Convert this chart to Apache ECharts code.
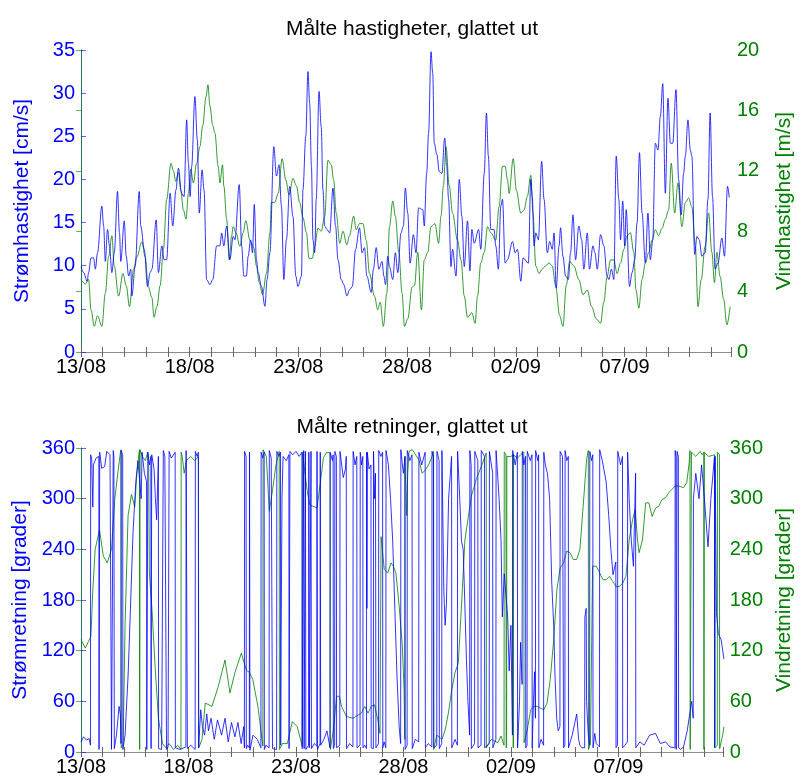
<!DOCTYPE html>
<html><head><meta charset="utf-8">
<script src="https://cdn.jsdelivr.net/npm/echarts@6/dist/echarts.min.js"></script>
<style>html,body{margin:0;padding:0;background:#fff}#c{width:803px;height:778px}</style>
</head><body><div id="c"></div>
<script>
// x values are days after 13/08 00:00
const dateLabels = ['13/08','18/08','23/08','28/08','02/09','07/09'];
const speedTicks = [0,5,10,15,20,25,30,35];
const windTicks = [0,4,8,12,16,20];
const dirTicks = [0,60,120,180,240,300,360];

const currentSpeed = [[0.00,9.9],[0.12,9.2],[0.28,8.2],[0.35,9.2],[0.46,10.9],[0.58,10.9],[0.66,9.6],[0.76,11.5],[0.96,16.9],[1.04,14.6],[1.12,10.5],[1.22,14.2],[1.31,12.3],[1.42,9.2],[1.53,11.5],[1.68,18.6],[1.77,13.8],[1.83,10.5],[1.99,15.2],[2.08,11.1],[2.19,8.8],[2.29,9.6],[2.34,6.5],[2.49,9.9],[2.68,18.6],[2.75,14.6],[2.91,11.9],[3.06,7.6],[3.18,9.2],[3.26,9.6],[3.46,15.3],[3.56,9.2],[3.72,12.3],[3.82,10.7],[3.94,10.7],[4.10,18.4],[4.22,14.6],[4.37,18.8],[4.48,21.3],[4.63,18.4],[4.74,18.0],[4.86,26.9],[4.94,21.9],[5.02,18.0],[5.09,21.5],[5.24,29.6],[5.35,24.6],[5.44,16.1],[5.57,21.1],[5.66,18.8],[5.78,8.4],[5.93,7.8],[6.06,8.4],[6.24,12.3],[6.39,12.3],[6.47,13.8],[6.57,12.3],[6.70,14.6],[6.85,10.7],[7.00,13.4],[7.08,13.0],[7.28,19.4],[7.39,12.3],[7.49,8.8],[7.61,8.8],[7.69,11.1],[7.80,13.0],[7.89,11.5],[7.97,17.1],[8.07,10.7],[8.15,9.2],[8.30,7.6],[8.46,5.3],[8.56,8.4],[8.69,11.5],[8.87,23.8],[8.99,20.4],[9.11,21.7],[9.22,16.9],[9.33,8.4],[9.45,13.0],[9.60,19.2],
[9.75,15.7],[9.88,8.8],[9.98,7.6],[10.14,8.8],[10.21,18.8],[10.34,25.0],[10.44,32.5],[10.52,28.8],[10.60,21.5],[10.67,13.0],[10.75,11.5],[10.82,17.7],[10.95,30.2],[11.05,26.1],[11.13,18.8],[11.21,14.6],[11.31,14.2],[11.44,13.8],[11.59,19.0],[11.71,14.6],[11.82,10.7],[11.97,8.4],[12.09,7.8],[12.23,6.5],[12.35,7.2],[12.48,7.6],[12.63,11.9],[12.81,14.4],[12.93,11.5],[13.04,12.1],[13.15,8.8],[13.35,6.9],[13.45,9.6],[13.58,12.1],[13.70,9.6],[13.85,10.5],[13.93,8.8],[14.01,7.8],[14.11,11.1],[14.19,9.9],[14.34,8.4],[14.46,11.5],[14.57,9.2],[14.72,13.8],[14.83,14.6],[14.92,19.0],[15.03,16.1],[15.14,10.3],[15.29,13.6],[15.41,11.5],[15.53,16.7],[15.72,16.5],[15.79,14.6],[15.90,20.7],[15.99,25.4],[16.10,34.8],[16.18,32.3],[16.25,24.2],[16.37,22.9],[16.48,20.9],[16.60,20.7],[16.73,24.8],[16.82,21.7],[16.91,17.7],[17.02,9.9],[17.09,11.9],[17.25,8.8],[17.40,20.0],[17.52,15.7],[17.63,9.9],[17.78,15.2],[17.89,9.4],[17.98,14.2],[18.09,12.6],[18.29,14.2],[18.39,11.9],[18.55,20.7],[18.65,27.7],[18.74,22.7],[18.85,14.2],[19.00,14.2],[19.08,12.3],[19.20,9.6],[19.31,16.9],[19.39,17.7],[19.51,10.3],[19.62,10.7],
[19.85,12.8],[19.97,11.5],[20.08,11.9],[20.23,8.2],[20.34,10.9],[20.58,10.3],[20.69,20.0],[20.76,18.0],[20.84,12.3],[20.92,13.8],[21.04,13.0],[21.19,22.1],[21.30,17.7],[21.45,11.5],[21.56,12.8],[21.68,11.9],[21.76,13.8],[21.86,7.4],[21.99,12.3],[22.06,14.4],[22.17,11.1],[22.29,8.8],[22.42,8.4],[22.52,11.5],[22.63,15.9],[22.75,10.7],[22.90,14.6],[23.03,13.0],[23.13,9.6],[23.29,13.8],[23.39,9.6],[23.55,12.3],[23.64,11.5],[23.75,9.6],[23.90,13.6],[24.05,12.3],[24.20,8.8],[24.28,8.4],[24.40,9.6],[24.51,8.4],[24.62,22.7],[24.74,17.7],[24.82,13.0],[24.92,17.5],[25.01,12.3],[25.08,16.5],[25.23,7.6],[25.35,9.2],[25.47,10.7],[25.58,15.0],[25.69,23.1],[25.81,16.1],[25.96,10.3],[26.08,16.1],[26.19,10.7],[26.30,13.0],[26.42,24.2],[26.54,23.4],[26.65,27.3],[26.76,31.1],[26.88,18.4],[27.00,29.4],[27.11,24.2],[27.22,24.2],[27.37,30.4],[27.49,20.0],[27.61,15.9],[27.72,20.7],[27.80,22.7],[27.92,26.9],[28.03,23.4],[28.10,22.7],[28.23,11.3],[28.33,13.4],[28.44,13.0],[28.56,11.1],[28.71,11.5],[28.84,17.7],[28.94,27.7],[29.05,18.0],[29.17,9.6],[29.30,10.3],[29.48,13.2],[29.60,11.1],[29.74,19.2],[29.82,17.9]];

const windSpeed = [[0.00,4.8],[0.20,4.5],[0.35,4.8],[0.46,2.8],[0.61,1.7],[0.76,2.4],[0.96,1.7],[1.12,3.9],[1.27,6.3],[1.42,7.7],[1.53,5.7],[1.73,3.7],[1.93,5.2],[2.08,4.4],[2.23,3.0],[2.42,5.5],[2.57,6.3],[2.80,7.3],[2.95,6.3],[3.10,4.3],[3.26,3.6],[3.36,2.3],[3.49,3.0],[3.64,4.4],[3.79,6.8],[3.94,10.1],[4.14,12.5],[4.25,12.0],[4.36,11.3],[4.48,11.9],[4.59,10.7],[4.71,9.4],[4.83,8.8],[4.94,10.5],[5.05,12.1],[5.17,11.2],[5.32,12.5],[5.47,13.6],[5.60,15.0],[5.75,16.9],[5.84,17.7],[5.93,16.3],[6.06,15.0],[6.16,14.5],[6.31,12.3],[6.39,11.2],[6.51,12.4],[6.57,11.0],[6.70,8.8],[6.82,6.1],[6.93,7.7],[7.00,8.3],[7.13,7.9],[7.31,7.0],[7.46,7.9],[7.58,8.7],[7.77,7.4],[7.95,6.9],[8.07,5.7],[8.20,4.6],[8.35,3.8],[8.53,5.2],[8.69,7.9],[8.76,9.9],[8.91,9.9],[9.07,10.5],[9.25,12.8],[9.42,11.4],[9.57,10.4],
[9.75,11.5],[9.91,11.0],[10.06,9.9],[10.21,8.9],[10.37,7.9],[10.49,6.2],[10.64,6.2],[10.75,7.0],[10.90,8.2],[11.05,8.0],[11.21,9.0],[11.36,12.7],[11.51,12.4],[11.62,11.4],[11.74,9.2],[11.90,7.2],[12.05,8.0],[12.23,7.1],[12.35,7.7],[12.54,9.0],[12.66,8.1],[12.81,8.5],[12.97,8.5],[13.12,7.4],[13.27,5.2],[13.50,3.7],[13.65,2.8],[13.76,3.3],[13.91,1.7],[14.07,3.9],[14.19,8.3],[14.34,10.0],[14.46,9.0],[14.62,6.6],[14.77,3.9],[14.88,1.7],[15.03,2.2],[15.23,4.3],[15.34,4.4],[15.49,6.6],[15.66,2.8],[15.79,6.1],[15.95,6.6],[16.10,8.3],[16.28,8.5],[16.45,7.2],[16.56,9.0],[16.67,11.0],[16.79,13.6],[16.94,11.0],[17.09,9.2],[17.32,7.4],[17.48,6.1],[17.63,3.7],[17.78,2.3],[17.98,2.6],[18.13,1.9],[18.24,3.7],[18.39,5.9],[18.55,6.6],[18.70,8.3],[18.85,7.9],[19.08,7.4],[19.23,9.6],[19.39,12.3],[19.51,12.3],[19.62,11.4],
[19.69,10.5],[19.88,12.8],[20.03,10.7],[20.23,9.2],[20.38,9.4],[20.53,10.3],[20.69,11.7],[20.79,9.2],[20.92,5.7],[21.07,5.2],[21.22,5.5],[21.37,5.7],[21.53,5.9],[21.68,5.7],[21.83,4.4],[22.02,2.4],[22.17,1.7],[22.32,4.4],[22.48,6.0],[22.67,5.7],[22.90,4.8],[23.09,3.8],[23.29,4.1],[23.49,3.0],[23.70,2.2],[23.90,1.9],[24.05,3.3],[24.20,5.0],[24.36,6.1],[24.51,6.1],[24.66,5.2],[24.82,5.9],[24.97,6.8],[25.12,7.7],[25.27,7.9],[25.43,6.6],[25.53,4.1],[25.66,2.9],[25.81,4.8],[25.96,5.9],[26.12,6.6],[26.27,7.4],[26.42,8.1],[26.57,7.7],[26.73,8.2],[26.88,8.8],[27.03,9.4],[27.15,12.5],[27.31,9.2],[27.46,11.2],[27.64,8.3],[27.80,9.9],[27.95,10.2],[28.10,9.6],[28.26,7.0],[28.38,3.0],[28.53,4.8],[28.71,7.0],[28.87,9.2],[29.02,6.6],[29.14,4.6],[29.25,6.6],[29.40,5.0],[29.56,3.5],[29.71,1.8],[29.86,3.0]];

const currentDir = [[0.00,12],[0.12,18],[0.25,14],[0.38,16],[0.44,8],[0.45,352],[0.50,346],[0.55,290],[0.58,340],[0.70,348],[0.83,350],[0.84,3],[0.86,2],[0.87,355],[0.96,336],[1.10,338],[1.20,356],[1.35,352],[1.41,350],[1.42,3],[1.49,5],[1.50,357],[1.53,350],[1.55,4],[1.65,20],[1.77,54],[1.83,45],[1.86,10],[1.87,357],[1.94,352],[1.95,3],[2.05,20],[2.19,90],[2.30,170],[2.42,260],[2.55,320],[2.65,345],[2.80,300],[2.84,355],[2.95,330],[3.05,320],[3.06,3],[3.10,2],[3.11,355],[3.18,340],[3.25,350],[3.26,4],[3.28,5],[3.29,352],[3.40,335],[3.46,300],[3.52,275],[3.58,330],[3.60,350],[3.61,4],[3.75,3],[3.82,5],[3.83,357],[3.90,350],[3.97,352],[3.98,3],[4.05,6],[4.09,4],[4.10,356],[4.20,348],[4.38,355],[4.39,5],[4.60,3],[4.88,6],[4.89,357],[4.94,355],[4.95,4],[5.10,8],[5.31,3],[5.32,356],[5.40,350],[5.46,355],[5.47,5],[5.57,50],[5.65,30],[5.75,20],[5.85,45],[5.93,25],[6.05,40],[6.20,15],[6.35,38],[6.54,20],[6.70,40],[6.85,12],[7.00,35],[7.16,18],[7.30,35],[7.45,10],[7.57,30],[7.60,5],[7.61,356],[7.68,350],[7.69,4],[7.75,8],[7.83,5],[7.84,355],[7.86,2],[8.00,20],[8.20,15],[8.37,5],[8.38,355],[8.45,348],[8.52,355],[8.53,3],[8.60,8],[8.75,5],[8.76,357],[8.85,348],[8.90,350],[8.91,4],[9.00,6],[9.10,3],[9.11,356],[9.20,350],[9.28,355],[9.29,8],[9.31,137],[9.35,300],[9.40,350],[9.55,345],[9.67,352],[9.68,4],[9.70,3],[9.72,356],[9.85,352],[10.00,356],[10.15,350],[10.28,355],[10.29,4],
[10.35,6],[10.36,357],[10.38,4],[10.43,5],[10.44,356],[10.46,3],[10.59,8],[10.60,355],[10.62,5],[10.69,6],[10.70,356],[10.72,4],[10.85,10],[10.97,7],[10.98,356],[11.00,3],[11.12,10],[11.13,355],[11.15,8],[11.30,15],[11.44,25],[11.55,10],[11.58,5],[11.59,355],[11.70,345],[11.73,352],[11.74,4],[11.80,8],[11.81,356],[11.88,350],[11.89,5],[12.04,8],[12.05,356],[12.15,335],[12.20,325],[12.30,335],[12.34,350],[12.35,4],[12.50,10],[12.65,6],[12.66,356],[12.75,340],[12.83,350],[12.84,5],[12.98,8],[12.99,355],[13.05,340],[13.11,350],[13.12,5],[13.20,8],[13.28,4],[13.29,355],[13.30,170],[13.32,355],[13.40,335],[13.49,340],[13.50,5],[13.60,4],[13.61,356],[13.65,300],[13.70,330],[13.72,5],[13.84,10],[13.85,357],[13.95,350],[14.03,355],[14.04,5],[14.10,12],[14.18,5],[14.19,357],[14.30,340],[14.40,300],[14.50,250],[14.60,170],[14.70,90],[14.80,30],[14.87,10],[14.88,358],[14.95,340],[15.00,330],[15.07,350],[15.08,3],[15.17,8],[15.18,357],[15.30,345],[15.40,352],[15.41,4],[15.55,15],[15.71,12],[15.72,355],[15.85,340],[16.01,355],[16.02,5],[16.15,10],[16.32,6],[16.33,356],[16.40,350],[16.41,5],[16.55,8],[16.56,356],[16.66,345],[16.67,4],[16.78,10],[16.79,357],[16.80,340],[16.88,190],[16.94,150],[17.00,175],[17.10,300],[17.24,350],[17.25,5],[17.40,15],[17.51,8],[17.52,356],[17.62,300],[17.70,250],[17.78,240],[17.85,180],[17.93,110],[18.00,60],[18.08,20],[18.09,357],[18.15,340],[18.16,4],[18.31,10],[18.32,356],[18.46,345],[18.47,5],[18.61,8],[18.62,357],[18.77,350],[18.78,5],[18.99,10],[19.00,356],[19.15,330],[19.16,5],[19.30,15],[19.31,357],[19.45,300],[19.54,250],[19.60,160],[19.69,211],[19.77,211],
[19.85,160],[19.92,96],[20.00,150],[20.07,20],[20.08,357],[20.20,340],[20.30,355],[20.31,5],[20.40,60],[20.45,130],[20.52,80],[20.53,356],[20.60,340],[20.68,350],[20.69,5],[20.75,8],[20.76,356],[20.90,345],[20.98,352],[20.99,5],[21.05,60],[21.10,95],[21.14,40],[21.15,357],[21.25,345],[21.29,352],[21.30,5],[21.40,15],[21.52,8],[21.53,355],[21.60,340],[21.70,330],[21.80,300],[21.90,200],[21.99,150],[22.05,90],[22.13,40],[22.20,25],[22.28,30],[22.29,356],[22.40,350],[22.44,352],[22.45,5],[22.51,8],[22.52,357],[22.60,345],[22.67,350],[22.68,5],[22.85,20],[23.06,45],[23.15,15],[23.21,8],[23.30,5],[23.36,7],[23.43,5],[23.44,160],[23.50,170],[23.52,60],[23.60,20],[23.66,8],[23.67,356],[23.75,345],[23.81,352],[23.82,5],[23.90,22],[23.97,10],[24.12,6],[24.13,358],[24.25,345],[24.43,320],[24.55,280],[24.65,240],[24.75,210],[24.88,225],[24.89,5],[24.96,8],[24.97,356],[25.10,340],[25.19,350],[25.20,5],[25.30,8],[25.42,12],[25.43,355],[25.50,300],[25.60,250],[25.70,220],[25.80,330],[25.81,5],[26.00,12],[26.20,8],[26.45,20],[26.73,22],[26.95,10],[27.20,12],[27.40,6],[27.63,5],[27.64,357],[27.68,350],[27.69,3],[27.72,5],[27.73,356],[27.79,350],[27.80,5],[27.90,3],[28.03,6],[28.20,25],[28.41,60],[28.48,40],[28.49,300],[28.60,330],[28.75,300],[28.87,340],[29.00,300],[29.17,243],[29.30,300],[29.47,350],[29.48,5],[29.50,350],[29.56,165],[29.65,140],[29.78,133],[29.91,110]];

const windDir = [[0.00,133],[0.20,123],[0.35,131],[0.46,137],[0.55,192],[0.66,240],[0.86,263],[1.04,232],[1.22,224],[1.42,240],[1.57,299],[1.73,334],[1.83,354],[1.86,358],[1.87,5],[1.96,10],[2.05,150],[2.19,280],[2.35,305],[2.50,290],[2.60,330],[2.70,355],[2.72,358],[2.73,3],[2.74,4],[2.75,358],[2.85,350],[3.00,345],[3.10,355],[3.15,340],[3.18,212],[3.30,170],[3.45,100],[3.60,40],[3.79,10],[3.95,5],[4.10,10],[4.30,3],[4.50,8],[4.65,3],[4.66,355],[4.71,350],[4.80,330],[4.90,345],[5.10,350],[5.30,345],[5.46,350],[5.48,5],[5.63,15],[5.78,58],[6.09,54],[6.39,78],[6.70,109],[6.93,70],[7.16,94],[7.46,117],[7.69,97],[7.84,94],[7.99,86],[8.23,54],[8.46,7],[8.47,358],[8.62,350],[8.76,285],[8.91,310],[9.07,340],[9.22,356],[9.23,3],[9.37,10],[9.60,10],[9.83,36],[10.06,30],[10.21,15],[10.29,7],[10.30,355],[10.37,354],[10.52,310],[10.64,293],[10.79,291],[10.98,289],[11.13,318],[11.28,349],[11.44,355],[11.59,354],[11.60,3],[11.74,26],[11.89,66],[12.02,66],[12.12,54],[12.35,42],[12.66,40],[13.04,46],[13.20,54],[13.35,46],[13.50,54],[13.65,56],[13.81,38],[13.91,22],[13.95,20],[13.96,255],[14.11,216],[14.27,212],[14.42,224],[14.53,220],[14.65,212],[14.80,173],[14.95,125],[15.03,74],[15.06,15],[15.07,350],[15.15,280],[15.20,330],[15.26,356],[15.41,358],[15.72,346],[15.87,330],[16.02,334],[16.17,340],[16.33,350],[16.40,356],[16.41,3],[16.55,20],[16.79,15],[16.94,26],[17.09,46],[17.25,74],[17.40,94],[17.55,105],[17.70,173],[17.86,251],[18.16,303],[18.39,323],[18.62,338],[18.85,354],[18.86,5],[19.08,15],[19.39,11],[19.54,19],[19.68,8],[19.69,355],[19.77,352],[19.78,5],[19.80,8],[19.81,350],[20.00,350],[20.10,352],[20.11,5],[20.12,352],[20.30,348],[20.45,352],[20.60,355],[20.61,11],[20.76,26],[20.92,50],[21.07,54],[21.22,54],[21.37,52],[21.53,50],[21.68,58],[21.83,86],[21.99,133],[22.14,192],[22.29,218],[22.45,224],[22.60,238],[22.75,236],[22.90,228],[23.06,228],[23.21,240],[23.36,291],[23.52,346],[23.60,357],[23.61,3],[23.70,10],[23.79,8],[23.80,220],[23.97,220],[24.13,212],[24.28,204],[24.43,204],[24.59,208],[24.74,202],[24.89,196],[25.04,196],[25.20,200],[25.35,208],[25.50,251],[25.66,275],[25.78,287],[25.89,251],[25.96,236],[26.12,251],[26.27,295],[26.42,295],[26.57,279],[26.73,289],[26.88,291],[27.03,299],[27.19,301],[27.34,307],[27.49,311],[27.64,315],[27.80,315],[28.03,313],[28.18,319],[28.29,342],[28.33,357],[28.34,3],[28.36,5],[28.40,355],[28.60,350],[28.80,356],[28.90,352],[28.97,355],[28.98,3],[29.00,355],[29.20,350],[29.48,352],[29.49,5],[29.60,8],[29.61,355],[29.70,352],[29.71,4],[29.85,20],[29.91,30]];

const BLUE = '#0000ff', GREEN = '#008000', GRAY = '#8c8c8c';
const FONT = 'Liberation Sans, Arial, Helvetica, sans-serif';
const X_MAX = 29.9;

function xAxes(gridIndex) {
  return [
    { type:'value', gridIndex, min:0, max:X_MAX, interval:1, position:'bottom',
      axisLine:{ lineStyle:{ color:GRAY, width:1 } },
      axisTick:{ inside:true, length:5, lineStyle:{ color:'#666' } },
      axisLabel:{ color:'#000', fontSize:20, fontFamily:FONT, margin:5,
        formatter: v => (Math.abs(v % 5) < 1e-6 && v / 5 < dateLabels.length) ? dateLabels[Math.round(v / 5)] : '' },
      splitLine:{ show:false } },
    { type:'value', gridIndex, min:0, max:X_MAX, interval:1, position:'top',
      axisLine:{ lineStyle:{ color:GRAY, width:1 } },
      axisTick:{ inside:true, length:5, lineStyle:{ color:'#666' } },
      axisLabel:{ show:false }, splitLine:{ show:false } }
  ];
}
function yAxis(gridIndex, side, ticks, name, color, gap) {
  return { type:'value', gridIndex, position:side, min:ticks[0], max:ticks[ticks.length-1],
    interval:ticks[1]-ticks[0], name, nameLocation:'middle', nameGap:gap,
    nameTextStyle:{ color, fontSize:21, fontFamily:FONT },
    axisLine:{ show:true, lineStyle:{ color, width:1, opacity:0.6 } },
    axisTick:{ show:true, inside:true, length:5, lineStyle:{ color, opacity:0.6 } },
    axisLabel:{ color, fontSize:20, fontFamily:FONT, margin:6 },
    splitLine:{ show:false } };
}
function line(data, xi, yi, color, smooth) {
  return { type:'line', data, xAxisIndex:xi, yAxisIndex:yi, showSymbol:false, symbol:'none',
    smooth, smoothMonotone:'x', animation:false, clip:true,
    lineStyle:{ color, width:1, opacity:0.8 } };
}

const chart = echarts.init(document.getElementById('c'), null, { renderer:'canvas' });
chart.setOption({
  animation:false,
  textStyle:{ fontFamily:FONT },
  title:[
    { text:'Målte hastigheter, glattet ut', left:407, top:14, textAlign:'center',
      textStyle:{ fontSize:21, fontWeight:'normal', color:'#000', fontFamily:FONT } },
    { text:'Målte retninger, glattet ut', left:407, top:412, textAlign:'center',
      textStyle:{ fontSize:21, fontWeight:'normal', color:'#000', fontFamily:FONT } }
  ],
  grid:[
    { left:81, right:70, top:50, height:302 },
    { left:81, right:70, top:448, height:304 }
  ],
  xAxis:[...xAxes(0), ...xAxes(1)],
  yAxis:[
    yAxis(0, 'left', speedTicks, 'Strømhastighet [cm/s]', BLUE, 48),
    yAxis(0, 'right', windTicks, 'Vindhastighet [m/s]', GREEN, 43),
    yAxis(1, 'left', dirTicks, 'Strømretning [grader]', BLUE, 48),
    yAxis(1, 'right', dirTicks, 'Vindretning [grader]', GREEN, 43)
  ],
  series:[
    line(windSpeed, 0, 1, GREEN, 0.35),
    line(currentSpeed, 0, 0, BLUE, 0.35),
    line(windDir, 2, 3, GREEN, false),
    line(currentDir, 2, 2, BLUE, false)
  ]
});
</script></body></html>
